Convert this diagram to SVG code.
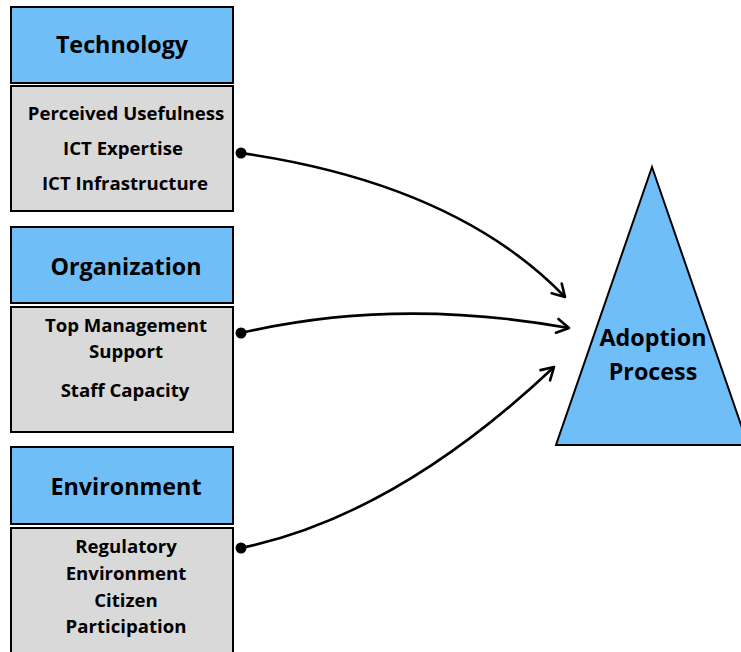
<svg xmlns="http://www.w3.org/2000/svg" width="741" height="652" viewBox="0 0 741 652">
  <style>
    .hdr { fill: #70BEF7; stroke: #000; stroke-width: 2; }
    .body { fill: #D9D9D9; stroke: #000; stroke-width: 2; }
    .title { font-family: "Open Sans", "Noto Sans", sans-serif; font-weight: bold; font-size: 23.3px; fill: #000; text-anchor: middle; }
    .item { font-family: "Open Sans", "Noto Sans", sans-serif; font-weight: bold; font-size: 18.6px; fill: #000; text-anchor: middle; }
    .link { fill: none; stroke: #000; stroke-width: 2.6; marker-start: url(#dot); marker-end: url(#arrow); }
  </style>
  <defs>
    <marker id="dot" viewBox="-6 -6 12 12" markerWidth="12" markerHeight="12" markerUnits="userSpaceOnUse" refX="0" refY="0">
      <circle cx="0" cy="0" r="5.5" fill="#000"/>
    </marker>
    <marker id="arrow" viewBox="-14 -9 16 18" markerWidth="16" markerHeight="18" markerUnits="userSpaceOnUse" refX="0" refY="0" orient="auto">
      <path d="M-12,-7 L0,0 L-12,7" fill="none" stroke="#000" stroke-width="2.6" stroke-linecap="round" stroke-linejoin="round"/>
    </marker>
  </defs>

  <rect width="741" height="652" fill="#fff"/>

  <g id="technology">
    <rect class="hdr" x="11" y="7" width="222" height="76"/>
    <text class="title" x="122" y="53">Technology</text>
    <rect class="body" x="11" y="86" width="222" height="125"/>
    <text class="item" x="126" y="120">Perceived Usefulness</text>
    <text class="item" x="123" y="155">ICT Expertise</text>
    <text class="item" x="125" y="190">ICT Infrastructure</text>
  </g>

  <g id="organization">
    <rect class="hdr" x="11" y="227" width="222" height="76"/>
    <text class="title" x="126" y="275">Organization</text>
    <rect class="body" x="11" y="307" width="222" height="125"/>
    <text class="item" x="126" y="332">Top Management</text>
    <text class="item" x="126" y="358">Support</text>
    <text class="item" x="125" y="397">Staff Capacity</text>
  </g>

  <g id="environment">
    <rect class="hdr" x="11" y="447" width="222" height="77"/>
    <text class="title" x="126" y="495">Environment</text>
    <rect class="body" x="11" y="528" width="222" height="130"/>
    <text class="item" x="126" y="553">Regulatory</text>
    <text class="item" x="126" y="580">Environment</text>
    <text class="item" x="126" y="607">Citizen</text>
    <text class="item" x="126" y="633">Participation</text>
  </g>

  <g id="adoption">
    <polygon points="652,167 556,445 748,445" fill="#70BEF7" stroke="#000" stroke-width="2"/>
    <text class="title" x="653" y="346">Adoption</text>
    <text class="title" x="653" y="380">Process</text>
  </g>

  <g id="connectors">
    <path class="link" d="M241,153 Q456,184 565,297"/>
    <path class="link" d="M241,333 Q396,297 569,328"/>
    <path class="link" d="M241,548 Q396,516 554,367"/>
  </g>
</svg>
